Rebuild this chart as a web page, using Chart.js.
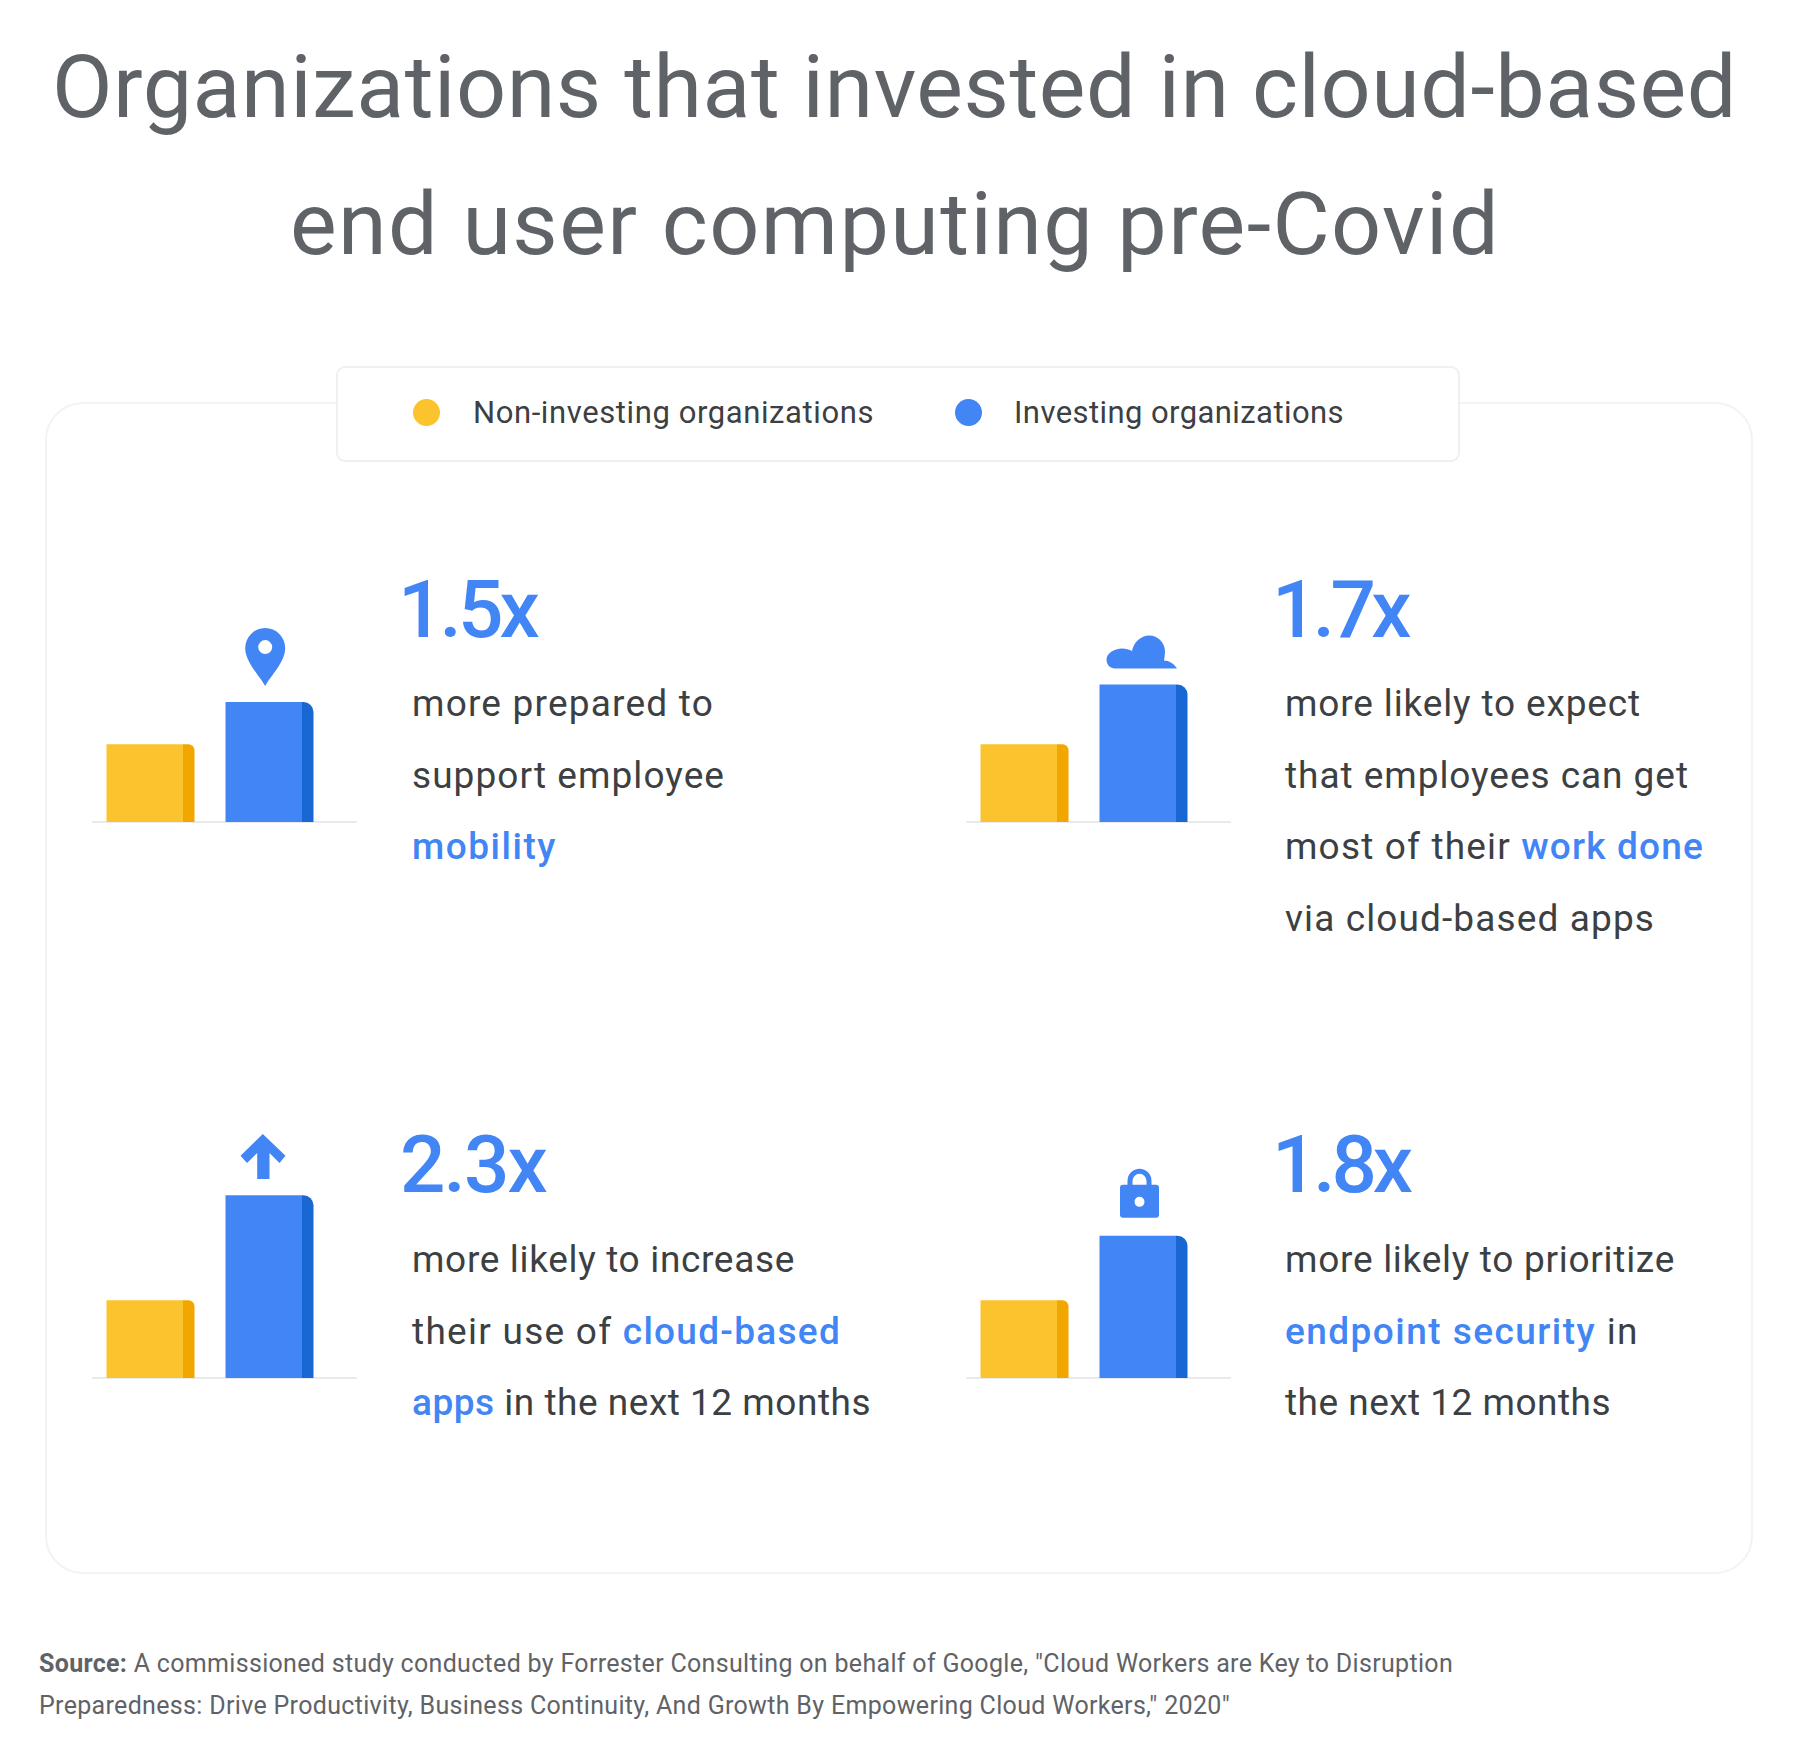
<!DOCTYPE html>
<html><head><meta charset="utf-8">
<style>
html,body{margin:0;padding:0;background:#fff;}
#page{position:relative;width:1800px;height:1749px;overflow:hidden;background:#fff;font-family:Roboto,"Noto Sans",sans-serif;}
.t{position:absolute;white-space:nowrap;}
.t b{font-weight:500;color:#4285f4;}
.src b{font-weight:700;color:#5f6368;}
canvas{position:absolute;}
</style>
<script src="https://cdn.jsdelivr.net/npm/chart.js@4/dist/chart.umd.min.js"></script>
</head><body><div id="page">
<div style="position:absolute;left:45px;top:402px;width:1704px;height:1168px;border:2px solid #f1f3f4;border-radius:38px;box-sizing:content-box"></div>
<div style="position:absolute;left:336px;top:366px;width:1120px;height:92px;background:#fff;border:2px solid #eff0f1;border-radius:9px"></div>
<div style="position:absolute;left:413px;top:399px;width:27px;height:27px;border-radius:50%;background:#fbc32d"></div>
<div style="position:absolute;left:955px;top:399px;width:27px;height:27px;border-radius:50%;background:#4285f4"></div>
</div>
<script>
const seriesNames = ['Non-investing organizations', 'Investing organizations'];
const nonInvesting = [0.98, 0.98, 0.98, 0.98];
const investing = [1.51, 1.73, 2.3, 1.79];
const multipliers = ['1.5x', '1.7x', '2.3x', '1.8x'];
const descriptions = [
  ['more prepared to', 'support employee', '<b>mobility</b>'],
  ['more likely to expect', 'that employees can get', 'most of their <b>work done</b>', 'via cloud-based apps'],
  ['more likely to increase', 'their use of <b>cloud-based</b>', '<b>apps</b> in the next 12 months'],
  ['more likely to prioritize', '<b>endpoint security</b> in', 'the next 12 months']
];
const titleLines = ['Organizations that invested in cloud-based', 'end user computing pre-Covid'];
const sourceLines = ['<b>Source:</b> A commissioned study conducted by Forrester Consulting on behalf of Google, "Cloud Workers are Key to Disruption',
  'Preparedness: Drive Productivity, Business Continuity, And Growth By Empowering Cloud Workers," 2020"'];

const COLORS = {yellow:'#fbc32d', yellowDark:'#f2a600', blue:'#4285f4', blueDark:'#1967d2', base:'#e8eaed'};
const ICONS = [
  {dx:1.2, d:'M0 -16 C-6 -27 -20 -40 -20 -54 A20 20 0 0 1 20 -54 C20 -40 6 -27 0 -16 Z M7 -55 A7 7 0 1 0 -7 -55 A7 7 0 1 0 7 -55 Z'},
  {dx:0, d:'M-23 -16 C-28 -16 -31.5 -20 -31.5 -25 C-31.5 -31 -24 -36 -16 -36 C-12 -36 -9 -35 -6 -33.5 C-4.5 -42 3 -49 11 -49 C20 -49 27 -42 27 -33 C27 -30 26.5 -27 26 -24 C31 -24 36 -21 39 -16 Z'},
  {dx:0, d:'M-1.2 -61.3 L21.5 -39.7 L15.5 -32.3 L5.5 -42.3 L5.5 -16.3 L-6.8 -16.3 L-6.8 -42.3 L-17 -32.3 L-23.5 -39.7 Z'},
  {dx:1.5, d:'M-12 -51 V-55 A12 12 0 0 1 12 -55 V-51 H7 V-55 A7 7 0 0 0 -7 -55 V-51 Z M-16.5 -51 H16.5 A3 3 0 0 1 19.5 -48 V-21 A3 3 0 0 1 16.5 -18 H-16.5 A3 3 0 0 1 -19.5 -21 V-48 A3 3 0 0 1 -16.5 -51 Z M5 -34 A5 5 0 1 0 -5 -34 A5 5 0 1 0 5 -34 Z'}
];
const page = document.getElementById('page');

function put(html, x, baseline, right, css, cls){
  const d = document.createElement('div');
  d.className = 't ' + (cls||'');
  d.style.cssText = 'left:'+x+'px;top:0;' + css;
  d.innerHTML = html + '<span style="display:inline-block;width:0;height:0"></span>';
  page.appendChild(d);
  const strut = d.lastChild;
  const shift = baseline - strut.getBoundingClientRect().bottom;
  d.style.top = shift + 'px';
  const n = d.textContent.length;
  const natural = d.getBoundingClientRect().width;
  d.style.letterSpacing = ((right - x - natural) / n) + 'px';
}

put(titleLines[0], 52, 117, 1737, 'font-size:88px;color:#5f6368;');
put(titleLines[1], 290, 254, 1500, 'font-size:88px;color:#5f6368;');
put(seriesNames[0], 473, 423, 874, 'font-size:31px;color:#3c4043;');
put(seriesNames[1], 1014, 423, 1344, 'font-size:31px;color:#3c4043;');
put(sourceLines[0], 39, 1672, 1453, 'font-size:25px;color:#5f6368;', 'src');
put(sourceLines[1], 39, 1714, 1230, 'font-size:25px;color:#5f6368;', 'src');

const numX = [398, 1272, 400, 1272], numR = [536, 1407, 546, 1409], numY = [637, 637, 1192, 1192];
const bodyX = [412, 1285, 412, 1285], bodyY = [716, 716, 1272, 1272];
const bodyR = [[714,725,557],[1641,1689,1704,1655],[795,841,871],[1675,1639,1611]];
const chartX = [91, 965, 91, 965], chartBase = [822, 822, 1377.5, 1377.5];

multipliers.forEach((m,i)=>{
  put(m, numX[i], numY[i], numR[i], 'font-size:80px;font-weight:500;color:#4285f4;');
  descriptions[i].forEach((line,j)=>put(line, bodyX[i], bodyY[i]+j*71.5, bodyR[i][j], 'font-size:37px;color:#3c4043;'));
});

const BAR_PCT = 88/119, STRIP = 11/88;
function sideFill(face, side){
  return ctx=>{
    const a = ctx.chart.chartArea;
    if(!a) return face;
    const step = a.width/2, w = step*BAR_PCT;
    const cx = a.left + step*(ctx.datasetIndex+.5);
    const g = ctx.chart.ctx.createLinearGradient(cx-w/2,0,cx+w/2,0);
    g.addColorStop(0,face); g.addColorStop(1-STRIP,face);
    g.addColorStop(1-STRIP,side); g.addColorStop(1,side);
    return g;
  };
}
const groundAndIcon = {
  id:'groundAndIcon',
  beforeDatasetsDraw(chart){
    const y = chart.scales.y.getPixelForValue(0), c = chart.ctx;
    c.save(); c.strokeStyle = COLORS.base; c.lineWidth = 2;
    c.beginPath(); c.moveTo(1,y); c.lineTo(chart.width-1,y); c.stroke(); c.restore();
  },
  afterDatasetsDraw(chart,args,opts){
    const el = chart.getDatasetMeta(1).data[0], c = chart.ctx, icon = opts.icon;
    c.save();
    c.translate(el.x - el.width*STRIP/2 + icon.dx, el.y);
    c.fillStyle = COLORS.blue;
    c.fill(new Path2D(icon.d), 'evenodd');
    c.restore();
  }
};

investing.forEach((v,i)=>{
  const cv = document.createElement('canvas');
  cv.width = 267; cv.height = 280;
  cv.style.left = chartX[i]+'px';
  cv.style.top = (chartBase[i]-270)+'px';
  page.appendChild(cv);
  new Chart(cv,{
    type:'bar',
    data:{labels:[multipliers[i]],datasets:[
      {label:seriesNames[0],data:[nonInvesting[i]],backgroundColor:sideFill(COLORS.yellow,COLORS.yellowDark),
       borderRadius:{topRight:6,topLeft:0,bottomLeft:0,bottomRight:0},borderSkipped:false},
      {label:seriesNames[1],data:[v],backgroundColor:sideFill(COLORS.blue,COLORS.blueDark),
       borderRadius:{topRight:10,topLeft:0,bottomLeft:0,bottomRight:0},borderSkipped:false}
    ]},
    options:{
      responsive:false,animation:false,devicePixelRatio:1,
      layout:{padding:{left:0,right:29,top:0,bottom:10}},
      datasets:{bar:{categoryPercentage:1,barPercentage:BAR_PCT}},
      plugins:{legend:{display:false},tooltip:{enabled:false},groundAndIcon:{icon:ICONS[i]}},
      scales:{x:{display:false},y:{display:false,min:0,max:3.4}}
    },
    plugins:[groundAndIcon]
  });
});
</script>
</body></html>
